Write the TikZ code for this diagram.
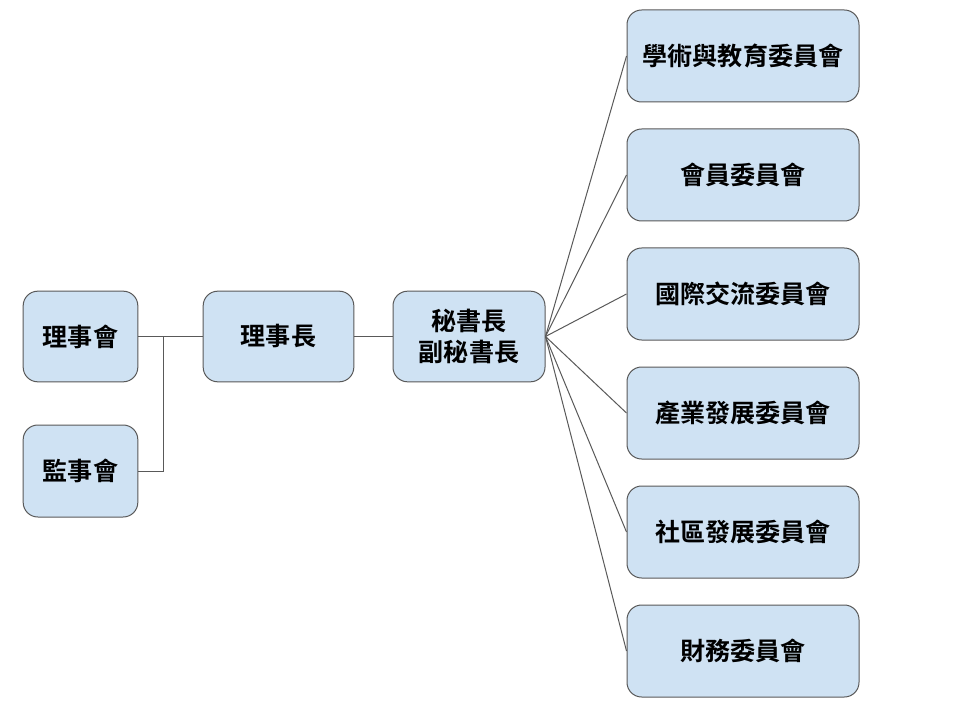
\documentclass[tikz,border=0pt]{standalone}
\usepackage{fontspec}
\setmainfont{Noto Sans CJK TC Bold}
\usepackage{tikz}
\definecolor{boxfill}{HTML}{CFE2F3}
\definecolor{boxline}{HTML}{595959}

\begin{document}
\begin{tikzpicture}[x=0.75pt,y=-0.75pt]
  \tikzstyle{unit}=[draw=boxline, fill=boxfill, rounded corners=11pt, line width=0.75pt,
    align=center, font=\fontsize{18.8}{23}\selectfont, inner sep=0pt]
  \tikzstyle{link}=[draw=boxline, line width=0.75pt]
  \useasboundingbox (0,0) rectangle (960,720);
  \node[unit, minimum width=86pt, minimum height=68pt] (P_1) at (80.5,336.5) {理事會};
  \node[unit, minimum width=86pt, minimum height=69pt] (P_2) at (80.5,471) {監事會};
  \node[unit, minimum width=113pt, minimum height=68pt] (P_3) at (278.5,336.5) {理事長};
  \node[unit, minimum width=114pt, minimum height=68pt] (P_4) at (469,336.5) {秘書長\\副秘書長};
  \node[unit, minimum width=174pt, minimum height=69pt] (C_1) at (743,56) {學術與教育委員會};
  \node[unit, minimum width=174pt, minimum height=69pt] (C_2) at (743,175) {會員委員會};
  \node[unit, minimum width=174pt, minimum height=69pt] (C_3) at (743,294) {國際交流委員會};
  \node[unit, minimum width=174pt, minimum height=69pt] (C_4) at (743,413) {產業發展委員會};
  \node[unit, minimum width=174pt, minimum height=69pt] (C_5) at (743,532) {社區發展委員會};
  \node[unit, minimum width=174pt, minimum height=69pt] (C_6) at (743,651) {財務委員會};
  \coordinate (J_1) at (163,336.5);
  \draw[link] (P_1) -- (P_3);
  \draw[link] (P_2.east) -| (J_1);
  \draw[link] (P_3) -- (P_4);
  \foreach \i in {1,...,6}
    \draw[link] (P_4.east) -- (C_\i.west);
\end{tikzpicture}
\end{document}
